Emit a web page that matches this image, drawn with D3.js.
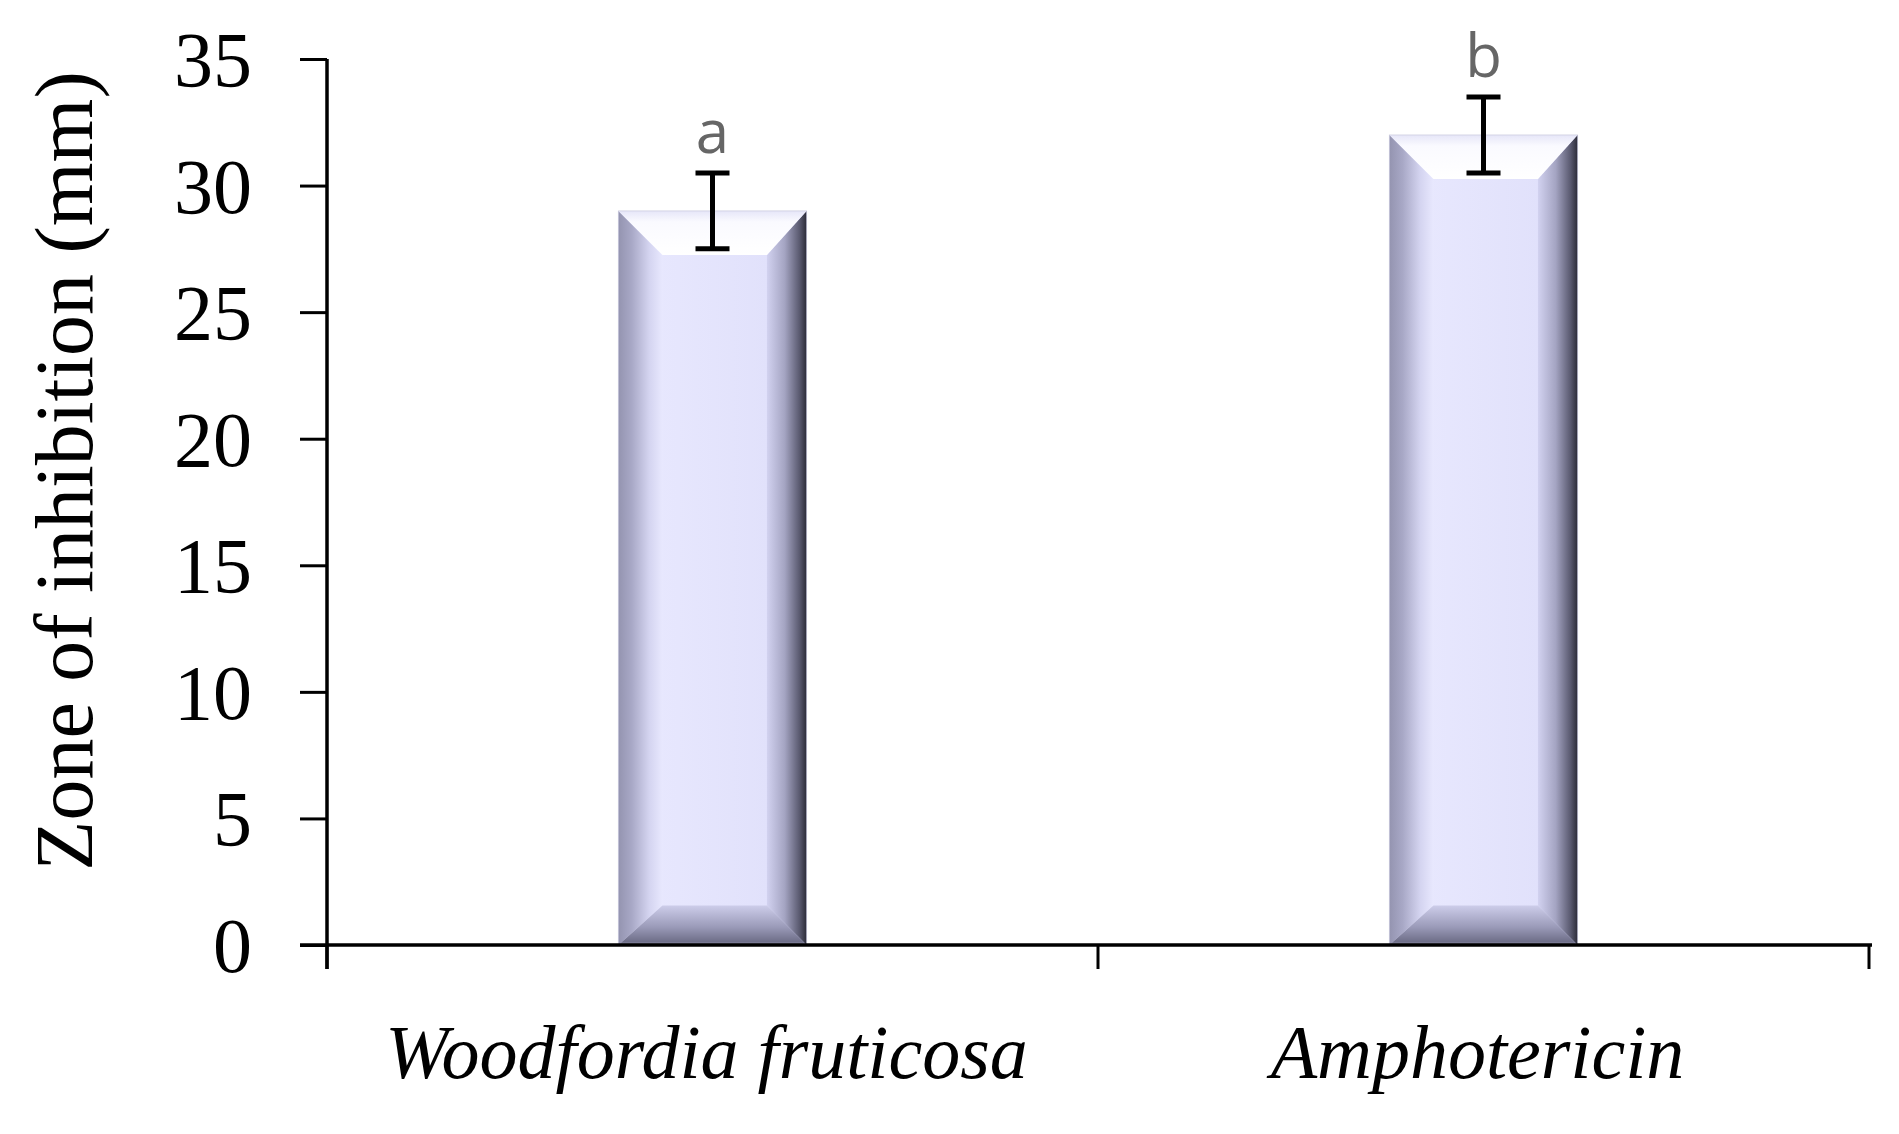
<!DOCTYPE html>
<html>
<head>
<meta charset="utf-8">
<script src="https://cdn.jsdelivr.net/npm/d3@7/dist/d3.min.js"></script>
<style>
  html, body { margin: 0; padding: 0; background: #fff; }
  svg { display: block; }
</style>
</head>
<body>
<div id="chart"></div>
<script>
// data
const categories = ["Woodfordia fruticosa", "Amphotericin"];
const values = [29, 32];
const errors = [1.5, 1.5];
const letters = ["a", "b"];
const yTicks = [0, 5, 10, 15, 20, 25, 30, 35];

(() => {
  const width = 1899, height = 1134;
  const margin = { top: 59, right: 30, bottom: 189, left: 327 };
  const innerW = 1869 - margin.left;
  const innerH = 945 - margin.top;

  const svg = d3.select("#chart").append("svg")
    .attr("width", width)
    .attr("height", height);

  const defs = svg.append("defs");
  const grad = (id, x2, y2, stops) => {
    const lg = defs.append("linearGradient").attr("id", id)
      .attr("x1", 0).attr("y1", 0).attr("x2", x2).attr("y2", y2);
    stops.forEach(([o, c]) => lg.append("stop").attr("offset", o).attr("stop-color", c));
  };
  grad("gLeft", 1, 0, [[0, "#9494b0"], [0.3, "#a8a8c6"], [0.7, "#d4d4f0"], [1, "#e8e8fe"]]);
  grad("gRight", 1, 0, [[0, "#d2d2f0"], [0.45, "#a4a4c2"], [0.82, "#5a5a70"], [1, "#2c2c38"]]);
  grad("gTop", 0, 1, [[0, "#e6e6f8"], [0.25, "#fafaff"], [1, "#ffffff"]]);
  grad("gBot", 0, 1, [[0, "#cdcdea"], [0.55, "#9a9ab8"], [0.92, "#6e6e88"], [1, "#a6a6be"]]);
  grad("gMid", 1, 0, [[0, "#dcdcf6"], [0.12, "#e8e8fe"], [0.8, "#e1e1fb"], [1, "#cacaec"]]);

  const g = svg.append("g").attr("transform", `translate(${margin.left},${margin.top})`);

  const x = d3.scaleBand().domain(categories).range([0, innerW]).paddingInner(0).paddingOuter(0);
  const y = d3.scaleLinear().domain([0, 35]).range([innerH, 0]);

  const barW = x.bandwidth() * 0.244;
  const bev = 44;

  // bars with a bevel look
  categories.forEach((c, i) => {
    const x0 = x(c) + (x.bandwidth() - barW) / 2;
    const x1 = x0 + barW;
    const y0 = y(values[i]);
    const y1 = y(0);
    const bar = g.append("g").attr("class", "bar");
    bar.append("rect").attr("x", x0).attr("y", y0).attr("width", barW).attr("height", y1 - y0)
      .attr("fill", "url(#gMid)");
    const poly = (pts, fill) => bar.append("polygon")
      .attr("points", pts.map(p => p.join(",")).join(" "))
      .attr("fill", fill);
    const lx = x0 + bev, rx = x1 - bev * 0.9, ty = y0 + bev, by = y1 - bev * 0.9;
    poly([[x0, y0], [lx, ty], [lx, by], [x0, y1]], "url(#gLeft)");
    poly([[x1, y0], [rx, ty], [rx, by], [x1, y1]], "url(#gRight)");
    poly([[x0, y0], [x1, y0], [rx, ty], [lx, ty]], "url(#gTop)");
    poly([[x0, y1], [x1, y1], [rx, by], [lx, by]], "url(#gBot)");
    bar.append("rect").attr("x", x0).attr("y", y0).attr("width", barW).attr("height", y1 - y0)
      .attr("fill", "none").attr("stroke", "#c4c4d8").attr("stroke-width", 1).attr("opacity", 0.6);

    // error bar
    const cx = x(c) + x.bandwidth() / 2;
    const eb = g.append("g").attr("stroke", "#000").attr("stroke-width", 5);
    eb.append("line").attr("x1", cx).attr("x2", cx).attr("y1", y(values[i] + errors[i])).attr("y2", y(values[i] - errors[i]));
    eb.append("line").attr("x1", cx - 17).attr("x2", cx + 17).attr("y1", y(values[i] + errors[i])).attr("y2", y(values[i] + errors[i]));
    eb.append("line").attr("x1", cx - 17).attr("x2", cx + 17).attr("y1", y(values[i] - errors[i])).attr("y2", y(values[i] - errors[i]));

    g.append("text")
      .attr("x", cx)
      .attr("y", y(values[i] + errors[i]) - 20)
      .attr("text-anchor", "middle")
      .attr("font-family", "'Open Sans', 'Liberation Sans', sans-serif")
      .attr("font-size", 60)
      .attr("fill", "#666")
      .text(letters[i]);
  });

  // y axis
  const yAxis = g.append("g").call(d3.axisLeft(y).tickValues(yTicks).tickSize(27).tickPadding(48));
  yAxis.select(".domain").remove();
  yAxis.append("line").attr("x1", 0).attr("x2", 0).attr("y1", 0).attr("y2", innerH + 24)
    .attr("stroke", "#000").attr("stroke-width", 3.5);
  yAxis.selectAll(".tick line").attr("stroke", "#000").attr("stroke-width", 3);
  yAxis.selectAll(".tick text")
    .attr("font-family", "'Liberation Serif', 'DejaVu Serif', serif")
    .attr("font-size", 78)
    .attr("fill", "#000")
    .attr("dy", "0.34em");

  // x axis
  const xAxis = g.append("g").attr("transform", `translate(0,${innerH})`);
  xAxis.append("line").attr("x1", -27).attr("x2", innerW + 3).attr("y1", 0).attr("y2", 0)
    .attr("stroke", "#000").attr("stroke-width", 3.5);
  const bounds = categories.map(c => x(c)).concat([innerW]);
  xAxis.selectAll(".xt").data(bounds).enter().append("line")
    .attr("x1", d => d).attr("x2", d => d).attr("y1", 0).attr("y2", 24)
    .attr("stroke", "#000").attr("stroke-width", 3);
  xAxis.selectAll(".xl").data(categories).enter().append("text")
    .attr("x", d => x(d) + x.bandwidth() / 2 - 6)
    .attr("y", 133)
    .attr("text-anchor", "middle")
    .attr("font-family", "'Liberation Serif', 'DejaVu Serif', serif")
    .attr("font-style", "italic")
    .attr("font-size", 76)
    .attr("fill", "#000")
    .text(d => d);

  // y label
  svg.append("text")
    .attr("transform", `translate(92,${471}) rotate(-90)`)
    .attr("text-anchor", "middle")
    .attr("font-family", "'Liberation Serif', 'DejaVu Serif', serif")
    .attr("font-size", 82)
    .attr("fill", "#000")
    .text("Zone of inhibition (mm)");
})();
</script>
</body>
</html>
